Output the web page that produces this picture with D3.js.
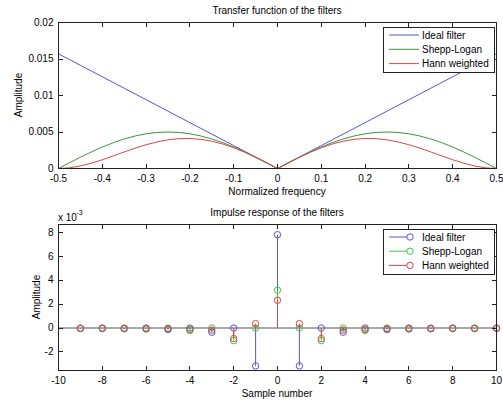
<!DOCTYPE html>
<html>
<head>
<meta charset="utf-8">
<script src="https://cdn.jsdelivr.net/npm/d3@7/dist/d3.min.js"></script>
<style>
  body { margin: 0; background: #fff; }
  svg { display: block; }
  text { font-family: "Liberation Sans", Arial, Helvetica, sans-serif; font-size: 10px; fill: #000; }
</style>
</head>
<body>
<svg id="fig" width="503" height="404"></svg>
<script>
// ---- Transfer functions (normalized frequency vs amplitude) ----
const freq = [-0.5, -0.475, -0.45, -0.425, -0.4, -0.375, -0.35, -0.325, -0.3, -0.275,
  -0.25, -0.225, -0.2, -0.175, -0.15, -0.125, -0.1, -0.075, -0.05, -0.025,
  0, 0.025, 0.05, 0.075, 0.1, 0.125, 0.15, 0.175, 0.2, 0.225,
  0.25, 0.275, 0.3, 0.325, 0.35, 0.375, 0.4, 0.425, 0.45, 0.475, 0.5];

const idealH = [0.015708, 0.014923, 0.014137, 0.013352, 0.012566, 0.011781, 0.010996, 0.010210, 0.009425, 0.008639,
  0.007854, 0.007069, 0.006283, 0.005498, 0.004712, 0.003927, 0.003142, 0.002356, 0.001571, 0.000785,
  0, 0.000785, 0.001571, 0.002356, 0.003142, 0.003927, 0.004712, 0.005498, 0.006283, 0.007069,
  0.007854, 0.008639, 0.009425, 0.010210, 0.010996, 0.011781, 0.012566, 0.013352, 0.014137, 0.014923, 0.015708];

const sheppH = [0, 0.000782, 0.001545, 0.002270, 0.002939, 0.003536, 0.004045, 0.004455, 0.004755, 0.004938,
  0.005, 0.004938, 0.004755, 0.004455, 0.004045, 0.003536, 0.002939, 0.002270, 0.001545, 0.000782,
  0, 0.000782, 0.001545, 0.002270, 0.002939, 0.003536, 0.004045, 0.004455, 0.004755, 0.004938,
  0.005, 0.004938, 0.004755, 0.004455, 0.004045, 0.003536, 0.002939, 0.002270, 0.001545, 0.000782, 0];

const hannH = [0, 0.000092, 0.000346, 0.000728, 0.001200, 0.001725, 0.002266, 0.002787, 0.003256, 0.003644,
  0.003927, 0.004087, 0.004112, 0.003997, 0.003741, 0.003352, 0.002842, 0.002228, 0.001532, 0.000781,
  0, 0.000781, 0.001532, 0.002228, 0.002842, 0.003352, 0.003741, 0.003997, 0.004112, 0.004087,
  0.003927, 0.003644, 0.003256, 0.002787, 0.002266, 0.001725, 0.001200, 0.000728, 0.000346, 0.000092, 0];

// ---- Impulse responses (sample number vs amplitude, in units of 10^-3) ----
const samples = [-9, -8, -7, -6, -5, -4, -3, -2, -1, 0, 1, 2, 3, 4, 5, 6, 7, 8, 9, 10];
const idealImp = [-0.039, 0, -0.065, 0, -0.127, 0, -0.354, 0, -3.183, 7.854,
  -3.183, 0, -0.354, 0, -0.127, 0, -0.065, 0, -0.039, 0];
const sheppImp = [0, -0.050, 0, -0.091, 0, -0.212, 0, -1.061, 0, 3.183,
  0, -1.061, 0, -0.212, 0, -0.091, 0, -0.050, 0, -0.032];
const hannImp = [-0.020, -0.026, -0.032, -0.048, -0.064, -0.120, -0.177, -0.884, 0.375, 2.335,
  0.375, -0.884, -0.177, -0.120, -0.064, -0.048, -0.032, -0.026, -0.020, -0.016];

const seriesNames = ["Ideal filter", "Shepp-Logan", "Hann weighted"];

// ---- Tick values and labels ----
const freqTicks = [-0.5, -0.4, -0.3, -0.2, -0.1, 0, 0.1, 0.2, 0.3, 0.4, 0.5];
const freqTickLabels = ["-0.5", "-0.4", "-0.3", "-0.2", "-0.1", "0", "0.1", "0.2", "0.3", "0.4", "0.5"];
const ampTicks = [0, 0.005, 0.01, 0.015, 0.02];
const ampTickLabels = ["0", "0.005", "0.01", "0.015", "0.02"];
const sampleTicks = [-10, -8, -6, -4, -2, 0, 2, 4, 6, 8, 10];
const impTicks = [-2, 0, 2, 4, 6, 8];

const svg = d3.select("#fig");

const lineColorsTop = ["#5656d4", "#3b953b", "#d64848"];
const lineColorsBottom = ["#5656d6", "#3ccc3c", "#d84646"];

const L = 58.5, R = 496.5;
const topBox = { t: 22.5, b: 168.5 };
const botBox = { t: 224.5, b: 370.5 };

const x1 = d3.scaleLinear().domain([-0.5, 0.5]).range([L, R]);
const y1 = d3.scaleLinear().domain([0, 0.02]).range([topBox.b, topBox.t]);
const x2 = d3.scaleLinear().domain([-10, 10]).range([L, R]);
const y2 = d3.scaleLinear().domain([-3.57, 8.71]).range([botBox.b, botBox.t]);

// Draws the box, inward ticks on all four sides and the tick labels
function frame(g, x, y, xTicks, xLabels, yTicks, yLabels, box) {
  const tl = 4.5;
  const ticks = g.append("g").attr("stroke", "#222").attr("stroke-width", 1);
  xTicks.forEach(v => {
    const px = Math.round(x(v) - 0.5) + 0.5;
    ticks.append("line").attr("x1", px).attr("x2", px).attr("y1", box.b).attr("y2", box.b - tl);
    ticks.append("line").attr("x1", px).attr("x2", px).attr("y1", box.t).attr("y2", box.t + tl);
  });
  yTicks.forEach(v => {
    const py = Math.round(y(v) - 0.5) + 0.5;
    ticks.append("line").attr("x1", L).attr("x2", L + tl).attr("y1", py).attr("y2", py);
    ticks.append("line").attr("x1", R).attr("x2", R - tl).attr("y1", py).attr("y2", py);
  });
  g.append("rect").attr("x", L).attr("y", box.t).attr("width", R - L).attr("height", box.b - box.t)
    .attr("fill", "none").attr("stroke", "#222").attr("stroke-width", 1);
  g.selectAll(null).data(xTicks).enter().append("text")
    .attr("x", d => x(d)).attr("y", box.b + 13).attr("text-anchor", "middle")
    .text((d, i) => xLabels[i]);
  g.selectAll(null).data(yTicks).enter().append("text")
    .attr("x", L - 5).attr("y", d => y(d) + 3).attr("text-anchor", "end")
    .text((d, i) => yLabels[i]);
}

// ---------- Upper panel: transfer functions ----------
const gTop = svg.append("g");
const line1 = d3.line().x((d, i) => x1(freq[i])).y(d => y1(d));
[idealH, sheppH, hannH].forEach((s, k) => {
  gTop.append("path").attr("d", line1(s)).attr("fill", "none")
    .attr("stroke", lineColorsTop[k]).attr("stroke-width", 1);
});
frame(gTop, x1, y1, freqTicks, freqTickLabels, ampTicks, ampTickLabels, topBox);

gTop.append("text").attr("x", 277).attr("y", 13.5).attr("text-anchor", "middle")
  .text("Transfer function of the filters");
gTop.append("text").attr("x", 277).attr("y", 194.5).attr("text-anchor", "middle")
  .text("Normalized frequency");
gTop.append("text").attr("transform", "translate(22,95) rotate(-90)").attr("text-anchor", "middle")
  .text("Amplitude");

// legend
const legTop = gTop.append("g");
legTop.append("rect").attr("x", 383.5).attr("y", 27.5).attr("width", 111).attr("height", 45)
  .attr("fill", "#fff").attr("stroke", "#222").attr("stroke-width", 1);
seriesNames.forEach((name, k) => {
  const yy = 35 + k * 14.3;
  legTop.append("line").attr("x1", 389).attr("x2", 419).attr("y1", yy).attr("y2", yy)
    .attr("stroke", lineColorsTop[k]).attr("stroke-width", 1);
  legTop.append("text").attr("x", 422).attr("y", yy + 3.5).text(name);
});

// ---------- Lower panel: impulse responses ----------
const gBot = svg.append("g");
gBot.append("line").attr("x1", L).attr("x2", R).attr("y1", y2(0)).attr("y2", y2(0))
  .attr("stroke", "#8c8c8c").attr("stroke-width", 1.6);

[idealImp, sheppImp, hannImp].forEach((s, k) => {
  const col = lineColorsBottom[k];
  const g = gBot.append("g");
  g.selectAll("line").data(s).enter().append("line")
    .attr("x1", (d, i) => x2(samples[i])).attr("x2", (d, i) => x2(samples[i]))
    .attr("y1", y2(0)).attr("y2", d => y2(d))
    .attr("stroke", col).attr("stroke-width", 1);
  g.selectAll("circle").data(s).enter().append("circle")
    .attr("cx", (d, i) => x2(samples[i])).attr("cy", d => y2(d)).attr("r", 3.2)
    .attr("fill", "none").attr("stroke", col).attr("stroke-width", 1);
});

frame(gBot, x2, y2, sampleTicks, sampleTicks.map(String), impTicks, impTicks.map(String), botBox);

gBot.append("text").attr("x", 277).attr("y", 216).attr("text-anchor", "middle")
  .text("Impulse response of the filters");
gBot.append("text").attr("x", 277).attr("y", 396.5).attr("text-anchor", "middle")
  .text("Sample number");
gBot.append("text").attr("transform", "translate(40,297) rotate(-90)").attr("text-anchor", "middle")
  .text("Amplitude");
gBot.append("text").attr("x", 58).attr("y", 221).text("x 10");
gBot.append("text").attr("x", 76.5).attr("y", 214.5).style("font-size", "7px").text("-3");

const legBot = gBot.append("g");
legBot.append("rect").attr("x", 383.5).attr("y", 229.5).attr("width", 111).attr("height", 45)
  .attr("fill", "#fff").attr("stroke", "#222").attr("stroke-width", 1);
seriesNames.forEach((name, k) => {
  const yy = 237 + k * 14.2;
  legBot.append("line").attr("x1", 389).attr("x2", 407).attr("y1", yy).attr("y2", yy)
    .attr("stroke", lineColorsBottom[k]).attr("stroke-width", 1);
  legBot.append("circle").attr("cx", 410).attr("cy", yy).attr("r", 3.2)
    .attr("fill", "none").attr("stroke", lineColorsBottom[k]).attr("stroke-width", 1);
  legBot.append("text").attr("x", 422).attr("y", yy + 3.5).text(name);
});
</script>
</body>
</html>
